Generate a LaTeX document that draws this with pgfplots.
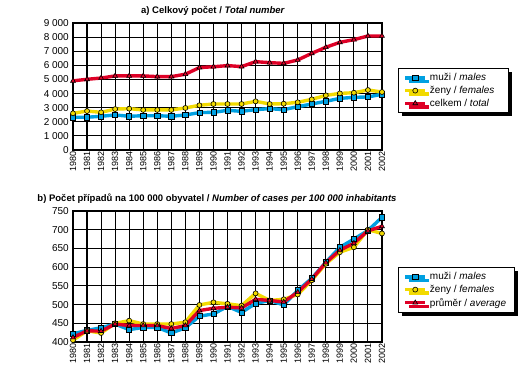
\documentclass[border=0pt]{standalone}
\usepackage{pgfplots}
\pgfplotsset{compat=1.18}
\usepackage{pgfplotstable}
\usepackage{fontspec}
\setmainfont{Liberation Sans}
\usetikzlibrary{shadows}
\definecolor{cblue}{RGB}{0,160,225}
\definecolor{cyel}{RGB}{242,218,0}
\definecolor{cred}{RGB}{222,0,38}

\pgfplotstableread{
year males females total
1980 2320 2600 4900
1981 2320 2760 5010
1982 2390 2670 5100
1983 2480 2900 5250
1984 2390 2930 5250
1985 2430 2840 5250
1986 2430 2840 5200
1987 2390 2840 5200
1988 2480 2980 5370
1989 2650 3170 5840
1990 2670 3260 5900
1991 2810 3260 5980
1992 2740 3260 5910
1993 2860 3450 6260
1994 2930 3260 6190
1995 2860 3280 6140
1996 3070 3380 6380
1997 3260 3590 6850
1998 3450 3870 7280
1999 3660 4010 7630
2000 3730 4060 7820
2001 3760 4250 8080
2002 3950 4110 8080
}\tabtotal

\pgfplotstableread{
year males females avg
1980 422 405 412
1981 431 430 430
1982 438 424 429
1983 448 450 448
1984 433 457 444
1985 439 448 444
1986 439 448 444
1987 424 448 436
1988 438 453 444
1989 469 499 484
1990 475 506 490
1991 495 502 493
1992 479 497 491
1993 503 530 514
1994 511 511 511
1995 499 514 507
1996 538 527 533
1997 570 565 568
1998 613 609 612
1999 653 640 645
2000 675 653 664
2001 698 700 697
2002 733 690 709
}\tabrate

\pgfplotsset{
  mystyle/.style={
    scale only axis,
    width=309bp,
    xmin=1980, xmax=2002,
    enlarge x limits=false,
    xtick={1980,...,2002},
    grid=major,
    major grid style={black, line width=1.1bp},
    axis line style={black, line width=1.1bp},
    major tick length=0pt,
    /pgf/number format/assume math mode=true,
    xticklabel style={font=\fontsize{9bp}{10bp}\selectfont, rotate=90, anchor=east, inner sep=1.5bp, /pgf/number format/1000 sep={}},
    yticklabel style={font=\fontsize{10bp}{11bp}\selectfont, inner sep=1bp, xshift=-3bp, /pgf/number format/1000 sep={\ }},
    legend cell align=left,
    legend style={font=\fontsize{10bp}{11bp}\selectfont, draw=black, line width=1bp, fill=white,
      inner xsep=5bp, inner ysep=4.5bp, row sep=3bp,
      nodes={inner xsep=3bp, inner ysep=0.5bp},
      drop shadow={shadow xshift=3.5bp, shadow yshift=-3.5bp, opacity=1, fill=black}},
    legend image code/.code={%
      \draw[mark repeat=2,mark phase=2] plot coordinates {(0bp,0bp) (10bp,0bp) (20bp,0bp)};},
    title style={font=\fontsize{9.5bp}{11bp}\selectfont\bfseries, inner sep=0pt, anchor=south},
  },
  smale/.style={color=cblue, line width=3.4bp, mark=square*, mark size=2.6bp,
     mark options={fill=cblue, draw=black, line width=0.6bp, solid}},
  sfemale/.style={color=cyel, line width=3.4bp, mark=*, mark size=2.5bp,
     mark options={fill=cyel, draw=black, line width=0.6bp, solid}},
  stotal/.style={color=cred, line width=3.4bp, mark=triangle*, mark size=2.8bp,
     mark options={fill=cred, draw=black, line width=0.6bp, solid}},
}

\begin{document}
\begin{tikzpicture}
\begin{axis}[mystyle,
  at={(0,0)}, anchor=south west,
  height=127bp,
  ymin=0, ymax=9000, ytick={0,1000,...,9000},
  title={a) Celkový počet / \textit{Total number}},
  title style={at={(0.453,1)}, yshift=1bp},
  legend style={at={(1.052,0.646)}, anchor=north west},
]
\addplot[smale] table[x=year, y=males] {\tabtotal};
\addlegendentry{muži / \textit{males}\hspace*{6bp}}
\addplot[sfemale] table[x=year, y=females] {\tabtotal};
\addlegendentry{ženy / \textit{females}\hspace*{6bp}}
\addplot[stotal] table[x=year, y=total] {\tabtotal};
\addlegendentry{celkem / \textit{total}\hspace*{6bp}}
\end{axis}

\begin{axis}[mystyle,
  at={(0,-61bp)}, anchor=north west,
  height=131bp,
  ymin=400, ymax=750, ytick={400,450,...,750},
  title={b) Počet případů na 100 000 obyvatel / \textit{Number of cases per 100 000 inhabitants}},
  title style={at={(0.466,1)}, yshift=1bp},
  legend style={at={(1.052,0.573)}, anchor=north west},
]
\addplot[smale] table[x=year, y=males] {\tabrate};
\addlegendentry{muži / \textit{males}}
\addplot[sfemale] table[x=year, y=females] {\tabrate};
\addlegendentry{ženy / \textit{females}}
\addplot[stotal] table[x=year, y=avg] {\tabrate};
\addlegendentry{průměr / \textit{average}}
\end{axis}
\pgfresetboundingbox
\path[use as bounding box] (-73bp,-225bp) rectangle (447bp,150bp);
\end{tikzpicture}
\end{document}
